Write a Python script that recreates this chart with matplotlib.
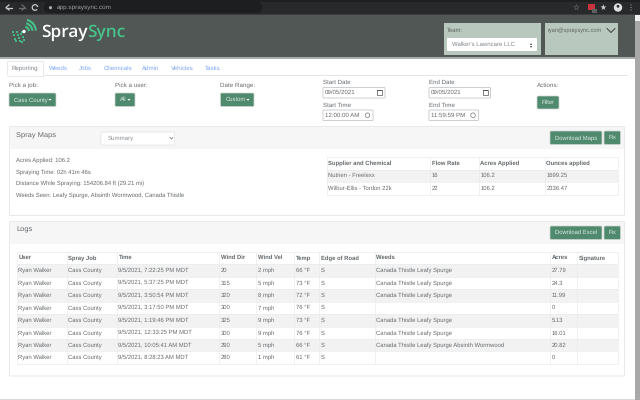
import matplotlib
matplotlib.use("Agg")
import matplotlib.pyplot as plt
from matplotlib.patches import Rectangle, FancyBboxPatch, Arc, Circle, Polygon

plt.rcParams['font.family'] = ['Liberation Sans', 'DejaVu Sans']
plt.rcParams['text.hinting'] = 'no_hinting'

# ---- data ----
url = "app.spraysync.com"
tabs = ["Reporting", "Weeds", "Jobs", "Chemicals", "Admin", "Vehicles", "Tasks"]
team = "Walker's Lawncare LLC"
email = "ryan@spraysync.com"
summary_lines = ["Acres Applied: 106.2", "Spraying Time: 02h 41m 46s",
                 "Distance While Spraying: 154206.84 ft (29.21 mi)",
                 "Weeds Seen: Leafy Spurge, Absinth Wormwood, Canada Thistle"]
chem_header = ["Supplier and Chemical", "Flow Rate", "Acres Applied", "Ounces applied"]
chem_rows = [["Nutrien - Freelexx", "16", "106.2", "1699.25"],
             ["Wilbur-Ellis - Tordon 22k", "22", "106.2", "2336.47"]]
log_header = ["User", "Spray Job", "Time", "Wind Dir", "Wind Vel", "Temp", "Edge of Road", "Weeds", "Acres", "Signature"]
CTLS = "Canada Thistle Leafy Spurge"
log_times = ["9/5/2021, 7:22:25 PM MDT", "9/5/2021, 5:37:25 PM MDT", "9/5/2021, 3:50:54 PM MDT",
             "9/5/2021, 3:17:50 PM MDT", "9/5/2021, 1:19:46 PM MDT", "9/5/2021, 12:33:25 PM MDT",
             "9/5/2021, 10:05:41 AM MDT", "9/5/2021, 8:28:23 AM MDT"]
log_dir = ["20", "315", "320", "300", "325", "300", "290", "280"]
log_vel = ["2 mph", "5 mph", "8 mph", "7 mph", "9 mph", "9 mph", "5 mph", "1 mph"]
log_temp = ["66 °F", "73 °F", "72 °F", "76 °F", "73 °F", "76 °F", "66 °F", "61 °F"]
log_weeds = [CTLS, CTLS, CTLS, "", CTLS, CTLS, CTLS + " Absinth Wormwood", ""]
log_acres = ["27.79", "24.3", "11.99", "0", "5.13", "16.01", "20.82", "0"]

GREEN = "#4f8a6f"
TXT = "#666a6e"
LINK = "#7ba4f2"
BORDER = "#e9ebed"
SZ = 4.2

fig = plt.figure(figsize=(6.4, 4.0), dpi=100)
ax = fig.add_axes([0, 0, 1, 1])
ax.set_xlim(0, 640)
ax.set_ylim(400, 0)
ax.axis("off")


def rect(x0, y0, x1, y1, fc, ec="none", lw=0.6, z=1):
    ax.add_patch(Rectangle((x0, y0), x1 - x0, y1 - y0, fc=fc, ec=ec, lw=lw, zorder=z))


def rrect(x0, y0, x1, y1, fc, ec="none", lw=0.6, z=2, r=1.2):
    ax.add_patch(FancyBboxPatch((x0 + r, y0 + r), x1 - x0 - 2 * r, y1 - y0 - 2 * r,
                                boxstyle=f"round,pad={r},rounding_size={r}", fc=fc, ec=ec, lw=lw, zorder=z))


def txt(x, y, s, size=SZ, color=TXT, **kw):
    kw.setdefault("va", "center")
    ax.text(x, y, s, fontsize=size, color=color, zorder=5, **kw)


def caret(x, y, color="white"):
    ax.add_patch(Polygon([(x - 1.6, y - 0.8), (x + 1.6, y - 0.8), (x, y + 1)], fc=color, ec="none", zorder=6))


def button(x0, y0, x1, y1, label, dropdown=False):
    rrect(x0, y0, x1, y1, GREEN, ec="#cfd6d2", lw=0.5)
    cx = (x0 + x1) / 2 - (1.5 if dropdown else 0)
    txt(cx, (y0 + y1) / 2, label, color="#dfeae4", ha="center")
    if dropdown:
        caret(x1 - 6, (y0 + y1) / 2)


# browser chrome
rect(0, 0, 640, 15, "#28292b")
rect(0, 0, 640, 2, "#1e1f21")
rect(0, 14, 640, 15, "#3a3b3d")
rrect(44, 2, 262, 13, "#1d1e20", r=5)
txt(57, 7.5, url, size=4.6, color="#a0a2a4")
ax.plot([6, 12], [7.5, 7.5], color="#c8c9cb", lw=0.9, zorder=5)
ax.plot([9, 6, 9], [5, 7.5, 10], color="#c8c9cb", lw=0.9, zorder=5)
ax.plot([19, 25], [7.5, 7.5], color="#6c6d6f", lw=0.9, zorder=5)
ax.plot([22, 25, 22], [5, 7.5, 10], color="#6c6d6f", lw=0.9, zorder=5)
ax.add_patch(Arc((35, 7.5), 5.5, 5.5, theta1=40, theta2=350, color="#c8c9cb", lw=0.9, zorder=5))
ax.add_patch(Circle((50.5, 7.7), 1.6, fc="#a9abad", ec="none", zorder=5))
txt(575.5, 7.5, "☆", size=5.5, color="#b5b6b8", ha="center", family=["DejaVu Sans"])
rect(588, 4, 595, 10, "#c8323a", z=3)
rect(592, 9, 597, 13, "#5f6062", z=4)
txt(602.5, 7.5, "★", size=5.5, color="#cfd0d2", ha="center", family=["DejaVu Sans"])
ax.add_patch(Circle((618, 7.5), 4.2, fc="#dfe0e2", ec="none", zorder=5))
ax.add_patch(Circle((618, 6.3), 1.4, fc="#28292b", ec="none", zorder=6))
for dy in (5, 7.5, 10):
    ax.add_patch(Circle((631, dy), 0.5, fc="#c8c9cb", ec="none", zorder=5))

# app header
rect(0, 15, 640, 57, "#505755")
rect(0, 57, 640, 58.5, "#a9adac")
rect(0, 58.5, 640, 400, "white", z=0)
LOGO = "#46c28a"
for (dx, dy) in [(13, 32), (17, 32), (22, 32), (14, 35), (18, 35), (21, 34), (15, 39), (19, 38), (16, 41),
                 (20, 41), (23, 37), (22, 42), (24, 40)]:
    ax.add_patch(Circle((dx, dy), 1.1, fc=LOGO, ec="none", zorder=5))
ax.add_patch(Circle((24, 31.5), 1.7, fc="white", ec="none", zorder=5))
for d in (10, 17, 24):
    ax.add_patch(Arc((24, 31.5), d, d, theta1=-75, theta2=-5, color=LOGO, lw=1.5, zorder=5))
t1 = ax.text(41, 32.5, "Spray", fontsize=12.4, color="white", va="center", family="Open Sans", weight="semibold", zorder=5)
fig.canvas.draw()
bb = t1.get_window_extent().transformed(ax.transData.inverted())
ax.text(bb.x1, 32.5, "Sync", fontsize=12.4, color=LOGO, va="center", family="Open Sans", weight="semibold", zorder=5)

# team and user boxes
rect(444, 23, 540.5, 54.5, "#b8c8be")
txt(447, 30, "Team:", color="#5e6561")
rect(447, 38, 537, 51, "white")
txt(451.5, 44.5, team, color="#80858a", size=4.3)
txt(531, 42.8, "▴", size=3, color="#444", ha="center", family=["DejaVu Sans"])
txt(531, 46, "▾", size=3, color="#444", ha="center", family=["DejaVu Sans"])
rect(544.5, 23, 618, 54.5, "#b8c8be")
txt(547.5, 30, email, color="#5e6561", size=4.1)
ax.plot([607, 611, 615], [28.5, 32.5, 28.5], color="#3c423f", lw=0.7, zorder=5)

# scrollbar
rect(634.5, 15, 640, 400, "#f1f1f1", z=3)
rect(635, 21, 639.5, 400, "#a8a8a8", z=4)

# tabs
xpos = [12, 49, 79, 103.5, 142, 171, 204.5]
rect(6.5, 75, 628, 75.5, "#e3e6e8")
rect(6.5, 60.5, 43, 75.5, "white", ec="#e3e6e8", lw=0.6, z=2)
rect(7, 74.8, 42.6, 76, "white", z=3)
for x, t in zip(xpos, tabs):
    txt(x, 68, t, color="#80858a" if t == "Reporting" else LINK, size=4.4)

# filter row
txt(9, 85.5, "Pick a job:", size=4.5)
button(9, 93, 56, 106.5, "Cass County", True)
txt(115, 85.5, "Pick a user:", size=4.5)
button(115, 93, 135, 106.5, "All", True)
txt(220.5, 85.5, "Date Range:", size=4.5)
button(220.5, 93, 254, 106.5, "Custom", True)


def field(x0, x1, y0, y1, label, value, icon):
    txt(x0, y0 - 5, label, size=4.4)
    rrect(x0, y0, x1, y1, "white", ec="#c4c8cb", lw=0.6, r=0.8)
    txt(x0 + 1.7, (y0 + y1) / 2, value, size=4.4)
    if icon == "cal":
        ax.add_patch(Rectangle((x1 - 8, y0 + 2.8), 5, 5, fc="none", ec="#555", lw=0.5, zorder=5))
        rect(x1 - 8, y0 + 2.8, x1 - 3, y0 + 3.8, "#555", z=5)
    else:
        ax.add_patch(Circle((x1 - 5.5, (y0 + y1) / 2), 2.3, fc="none", ec="#777", lw=0.5, zorder=5))


field(323, 385, 87.5, 98, "Start Date", "09/05/2021", "cal")
field(429, 490.5, 87.5, 98, "End Date", "09/05/2021", "cal")
field(323, 373, 110, 120.5, "Start Time", "12:00:00 AM", "clock")
field(429, 478.5, 110, 120.5, "End Time", "11:59:59 PM", "clock")
txt(537, 85.5, "Actions:", size=4.5)
button(537, 96, 559, 109, "Filter")


def card(y0, y1, yh):
    rrect(9.5, y0, 624.5, y1, "white", ec="#e3e5e7", lw=0.6, z=1, r=1)
    rect(10, y0 + 0.4, 624, yh, "#f6f6f6", z=1.2)
    rect(10, yh, 624, yh + 0.5, "#e6e8ea", z=1.3)


def table(cols, ys, header, rows):
    for i in range(len(rows)):
        if i % 2 == 0:
            rect(cols[0], ys[i + 1], cols[-1], ys[i + 2], "#f2f2f2", z=1.5)
    for y in ys:
        ax.plot([cols[0], cols[-1]], [y, y], color=BORDER, lw=0.5, zorder=2)
    for x in cols:
        ax.plot([x, x], [ys[0], ys[-1]], color=BORDER, lw=0.5, zorder=2)
    for x, h in zip(cols, header):
        txt(x + 2, (ys[0] + ys[1]) / 2 + 0.3, h, size=4.2, color="#64686b", weight="bold")
    for i, row in enumerate(rows):
        for x, v in zip(cols, row):
            txt(x + 2, (ys[i + 1] + ys[i + 2]) / 2 + 0.3, v, size=4.2)


# Spray Maps card
card(126.5, 215.5, 149.5)
txt(16.5, 135.5, "Spray Maps", size=5.4)
rrect(101, 132, 174.5, 145, "white", ec="#dfe2e4", lw=0.5, r=1)
txt(108, 138.5, "Summary", size=4.4, color="#8a8f93")
ax.plot([170, 171.5, 173], [137.5, 139, 137.5], color="#666", lw=0.5, zorder=5)
button(550, 131, 602, 144.5, "Download Maps")
button(604, 131, 620.5, 144.5, "Fix")
for y, s in zip([160.5, 172, 183.5, 195], summary_lines):
    txt(16, y, s, size=4.2)
table([326.5, 429.5, 478.5, 544.5, 617.5], [156.5, 169.5, 181.5, 194.5], chem_header, chem_rows)

# Logs card
card(221.5, 376, 243.5)
txt(16.5, 230, "Logs", size=5.4)
button(550, 226, 602, 239.5, "Download Excel")
button(604, 226, 620.5, 239.5, "Fix")
log_rows = [["Ryan Walker", "Cass County", t, d, v, tp, "S", w, a, ""]
            for t, d, v, tp, w, a in zip(log_times, log_dir, log_vel, log_temp, log_weeds, log_acres)]
table([16.5, 66.5, 116.5, 219, 256, 293.5, 319, 374.5, 549.5, 576.5, 617.5],
      [251.5, 263.5, 276.5, 289, 301.5, 313.5, 326.5, 339, 351, 363.5], log_header, log_rows)

# window bottom edge
rect(0, 398.7, 634.5, 400, "#d9d9d9", z=3)

fig.savefig("out.png", dpi=100)
